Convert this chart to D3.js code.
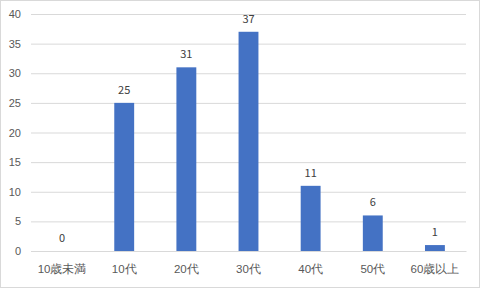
<!DOCTYPE html>
<html>
<head>
<meta charset="utf-8">
<style>
  body { margin: 0; background: #fff; }
  svg { display: block; font-family: "Noto Sans CJK JP", "Noto Sans", sans-serif; }
</style>
</head>
<body>
<svg width="480" height="288"></svg>
<script src="https://d3js.org/d3.v7.min.js"></script>
<script>
var categories = ["10歳未満", "10代", "20代", "30代", "40代", "50代", "60歳以上"];
var values = [0, 25, 31, 37, 11, 6, 1];
var yTicks = [0, 5, 10, 15, 20, 25, 30, 35, 40];

var svg = d3.select("svg"),
    margin = {top: 14, right: 14, bottom: 37, left: 31},
    width = +svg.attr("width") - margin.left - margin.right,
    height = +svg.attr("height") - margin.top - margin.bottom;

// chart border
svg.append("rect")
    .attr("x", 0.5).attr("y", 0.5)
    .attr("width", 479).attr("height", 287)
    .attr("fill", "#fff")
    .attr("stroke", "#d9d9d9");

var g = svg.append("g").attr("transform", "translate(" + margin.left + "," + margin.top + ")");

var x = d3.scaleBand()
    .domain(categories)
    .range([0, width])
    .paddingInner(0.68)
    .paddingOuter(0.34);

var y = d3.scaleLinear()
    .domain([0, 40])
    .range([height, 0]);

// gridlines
g.append("g")
    .call(d3.axisLeft(y).tickValues(yTicks).tickSize(-width).tickFormat(""))
    .call(function(s) { s.select(".domain").remove(); })
    .selectAll("line")
    .attr("stroke", "#d9d9d9");

// y labels
g.append("g")
    .call(d3.axisLeft(y).tickValues(yTicks).tickSize(0).tickPadding(10))
    .call(function(s) { s.select(".domain").remove(); })
    .selectAll("text")
    .attr("fill", "#595959")
    .style("font-size", "11px");

// x labels
g.append("g")
    .attr("transform", "translate(0," + height + ")")
    .call(d3.axisBottom(x).tickSize(0).tickPadding(14))
    .call(function(s) { s.select(".domain").attr("stroke", "#d9d9d9"); })
    .selectAll("text")
    .attr("fill", "#595959")
    .style("font-size", "11.5px");

g.selectAll(".bar")
    .data(values)
    .enter().append("rect")
    .attr("class", "bar")
    .attr("x", function(d, i) { return x(categories[i]); })
    .attr("y", function(d) { return y(d); })
    .attr("width", x.bandwidth())
    .attr("height", function(d) { return height - y(d); })
    .attr("fill", "#4472c4");

g.selectAll(".lbl")
    .data(values)
    .enter().append("text")
    .attr("class", "lbl")
    .attr("x", function(d, i) { return x(categories[i]) + x.bandwidth() / 2; })
    .attr("y", function(d) { return y(d) - 9; })
    .attr("text-anchor", "middle")
    .attr("fill", "#404040")
    .style("font-size", "11px")
    .text(function(d) { return d; });
</script>
</body>
</html>
